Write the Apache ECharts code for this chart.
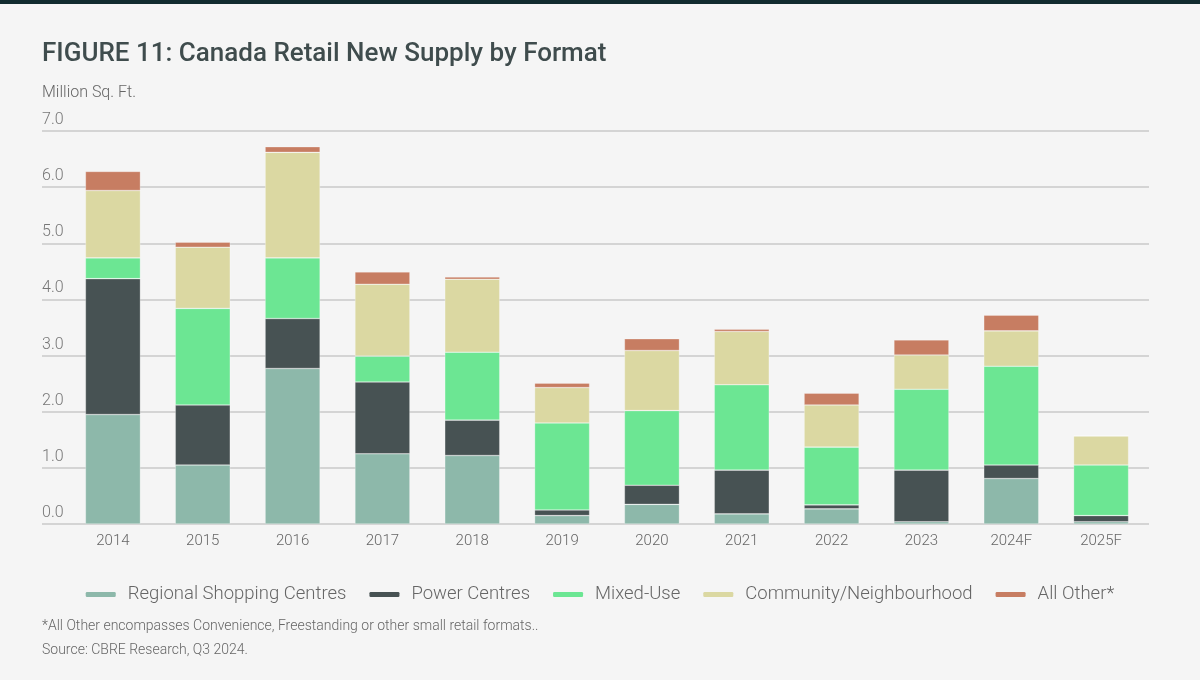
<!DOCTYPE html>
<html>
<head>
<meta charset="utf-8">
<title>Canada Retail New Supply by Format</title>
<script src="https://cdn.jsdelivr.net/npm/echarts@6/dist/echarts.min.js"></script>
<style>
  html, body { margin: 0; padding: 0; background: #f5f5f5; }
  .topBar { position: absolute; left: 0; top: 0; width: 1200px; height: 4px; background: #112b2f; }
  #chart { width: 1200px; height: 680px; }
</style>
</head>
<body>
<div class="topBar"></div>
<div id="chart"></div>
<script>
// 年份
const years = ['2014', '2015', '2016', '2017', '2018', '2019', '2020', '2021', '2022', '2023', '2024F', '2025F']
// 各业态新增面积（百万平方英尺）
const regionalShopping = [1.95, 1.05, 2.77, 1.25, 1.22, 0.15, 0.35, 0.18, 0.27, 0.04, 0.81, 0.04]
const powerCentres = [2.42, 1.07, 0.89, 1.28, 0.63, 0.10, 0.34, 0.78, 0.07, 0.92, 0.24, 0.11]
const mixedUse = [0.37, 1.72, 1.08, 0.46, 1.21, 1.55, 1.33, 1.52, 1.03, 1.44, 1.76, 0.90]
const community = [1.20, 1.09, 1.88, 1.28, 1.30, 0.63, 1.07, 0.95, 0.75, 0.61, 0.63, 0.52]
const allOther = [0.34, 0.09, 0.10, 0.22, 0.04, 0.08, 0.21, 0.04, 0.21, 0.27, 0.28, 0]
const yTicks = { min: 0, max: 7, interval: 1 }

const font = 'Roboto, "Noto Sans", sans-serif'
const seriesList = [
  { name: 'Regional Shopping Centres', data: regionalShopping, color: '#8db8aa' },
  { name: 'Power Centres', data: powerCentres, color: '#475253' },
  { name: 'Mixed-Use', data: mixedUse, color: '#6ce693' },
  { name: 'Community/Neighbourhood', data: community, color: '#dbd8a2' },
  { name: 'All Other*', data: allOther, color: '#c77d62' }
]

const myChart = echarts.init(document.getElementById('chart'))
const option = {
  backgroundColor: 'transparent',
  textStyle: { fontFamily: font },
  title: [
    {
      text: 'FIGURE 11: Canada Retail New Supply by Format',
      left: 42,
      top: 41,
      padding: 0,
      textStyle: { fontSize: 26, fontWeight: 500, color: '#3f4c4d', fontFamily: font }
    },
    {
      text: 'Million Sq. Ft.',
      left: 42,
      top: 85,
      padding: 0,
      textStyle: { fontSize: 16, fontWeight: 300, color: '#666', fontFamily: font }
    },
    {
      text: '*All Other encompasses Convenience, Freestanding or other small retail formats..',
      left: 42,
      top: 619,
      padding: 0,
      textStyle: { fontSize: 14, fontWeight: 300, color: '#666', fontFamily: font }
    },
    {
      text: 'Source: CBRE Research, Q3 2024.',
      left: 42,
      top: 643,
      padding: 0,
      textStyle: { fontSize: 14, fontWeight: 300, color: '#666', fontFamily: font }
    }
  ],
  legend: {
    top: 580,
    left: 'center',
    icon: 'roundRect',
    itemWidth: 30,
    itemHeight: 5,
    itemGap: 23,
    textStyle: { fontSize: 18.5, fontWeight: 300, color: '#666', fontFamily: font, padding: [0, 0, 0, 7] },
    itemStyle: { borderWidth: 0 },
    data: seriesList.map((s) => s.name)
  },
  grid: [
    // 网格线
    { left: 42, right: 51, top: 131, height: 393 },
    // 柱子
    { left: 68, right: 54, top: 131, height: 393 }
  ],
  xAxis: [
    { type: 'category', gridIndex: 0, data: years, show: false },
    {
      type: 'category',
      gridIndex: 1,
      data: years,
      axisLine: { show: false },
      axisTick: { show: false },
      axisLabel: { margin: 10, fontSize: 15, fontWeight: 300, color: '#666', fontFamily: font }
    }
  ],
  yAxis: [
    {
      type: 'value',
      gridIndex: 0,
      min: yTicks.min,
      max: yTicks.max,
      interval: yTicks.interval,
      axisLine: { show: false },
      axisTick: { show: false },
      axisLabel: {
        inside: true,
        align: 'left',
        verticalAlign: 'bottom',
        margin: 0,
        padding: [0, 0, 3, 0],
        fontSize: 16,
        fontWeight: 300,
        color: '#777',
        fontFamily: font,
        formatter: (v) => v.toFixed(1)
      },
      splitLine: { show: true, lineStyle: { color: '#c8c8c8', width: 1.5 } }
    },
    {
      type: 'value',
      gridIndex: 1,
      min: yTicks.min,
      max: yTicks.max,
      interval: yTicks.interval,
      show: false,
      splitLine: { show: false }
    }
  ],
  series: seriesList.map((s) => ({
    name: s.name,
    type: 'bar',
    stack: 'total',
    xAxisIndex: 1,
    yAxisIndex: 1,
    barWidth: 55,
    data: s.data,
    itemStyle: { color: s.color, borderColor: 'rgba(255,255,255,0.45)', borderWidth: 0.6 },
    emphasis: { disabled: true }
  }))
}
myChart.setOption(option)
</script>
</body>
</html>
